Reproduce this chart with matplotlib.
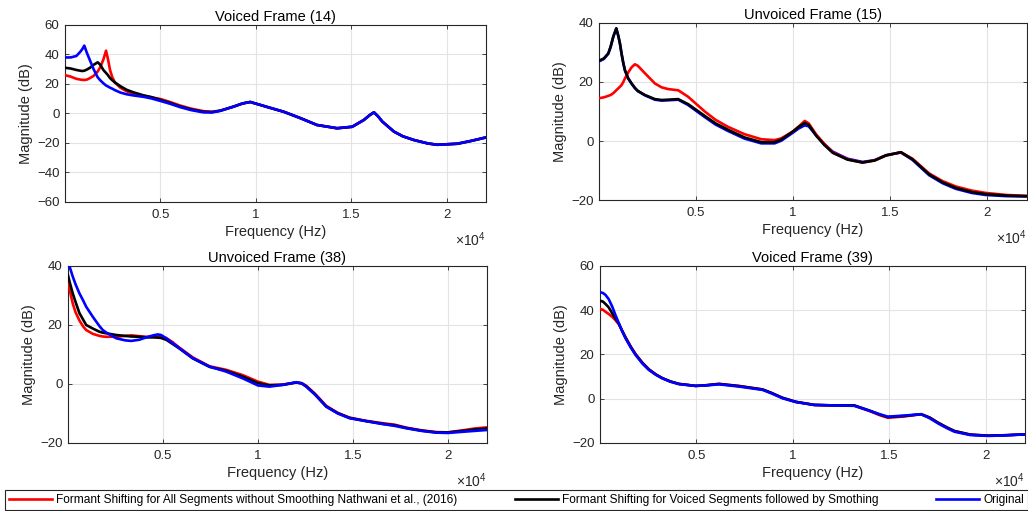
import matplotlib
matplotlib.use('Agg')
import matplotlib.pyplot as plt
from matplotlib.ticker import FuncFormatter, MultipleLocator

# 1. Dane (częstotliwość w Hz, amplituda w dB)
labels = ['Formant Shifting for All Segments without Smoothing Nathwani et al., (2016)',
          'Formant Shifting for Voiced Segments followed by Smothing',
          'Original']
colors = ['#ff0000', '#000000', '#0000ff']

# Voiced Frame (14)
freq_14 = [0, 300, 600, 800, 900, 1013, 1150, 1310, 1500, 1715, 1850, 2010, 2150, 2250, 2360,
           2480, 2620, 2900, 3240, 3600, 4110, 4500, 5000, 5500, 6030, 6600, 7240, 7700, 8130,
           8815, 9300, 9700, 10230, 10700, 11450, 12300, 13200, 14250, 15040, 15650, 15950,
           16180, 16400, 16620, 17230, 17700, 18280, 19000, 19500, 20550, 21300, 22050]
red_14 = [26, 25, 23.5, 23, 22.8, 22.7, 23, 24, 25.5, 28.5, 31.5, 36.5, 42.6, 37, 29.5,
          24.5, 21, 17.5, 15, 13.4, 12, 11, 9.8, 7.8, 5.4, 3.3, 1.6, 1.1, 1.9,
          4.6, 6.8, 7.8, 5.8, 4, 1.2, -3, -7.8, -10, -9, -4.4, -1.2,
          0.8, -2, -5.5, -12.3, -15.5, -18, -20.3, -21.2, -20.5, -18.5, -16.2]
black_14 = [31, 30.5, 29.5, 29, 28.8, 29, 29.8, 31, 33, 34.7, 33, 29.5, 27.5, 26, 24,
            22.5, 21, 18.5, 16, 14.3, 12.3, 11.2, 9.2, 7.2, 4.8, 2.8, 1.2, 1.0, 1.9,
            4.6, 6.8, 7.8, 5.8, 4, 1.2, -3, -7.8, -10, -9, -4.4, -1.2,
            0.8, -2, -5.5, -12.3, -15.5, -18, -20.3, -21.2, -20.5, -18.5, -16.2]
blue_14 = [38, 38, 39, 41.8, 43.5, 46, 41, 36, 30, 24.5, 22.5, 20.5, 19, 18.3, 17.5,
           16.8, 15.8, 14.2, 13, 12.2, 11.3, 10.3, 8.5, 6.6, 4.3, 2.3, 0.8, 0.7, 1.8,
           4.6, 6.8, 7.8, 5.8, 4, 1.2, -3, -7.8, -10, -9, -4.4, -1.2,
           0.8, -2, -5.5, -12.3, -15.5, -18, -20.3, -21.2, -20.5, -18.5, -16.2]

# Unvoiced Frame (15)
freq_15 = [0, 250, 478, 600, 735, 890, 1000, 1080, 1165, 1250, 1336, 1500, 1680, 1850, 2000,
           2360, 2880, 3220, 3560, 4080, 4590, 5450, 6000, 6645, 7500, 8360, 9045, 9390, 9985,
           10300, 10600, 10800, 11190, 11600, 12040, 12800, 13580, 14200, 14785, 15555, 16150,
           17010, 17700, 18380, 19200, 19925, 21000, 22050]
red_15 = [14.5, 14.8, 15.3, 15.6, 16.2, 17.2, 17.9, 18.4, 19, 20, 21.2, 23.2, 25, 26, 25.5,
          23, 19.5, 18.2, 17.6, 17.2, 15, 10, 7.2, 4.8, 2.3, 0.6, 0.3, 0.9, 3.2,
          5, 6.8, 6, 2.2, -0.9, -3.8, -6.2, -7.3, -6.6, -4.9, -3.8, -6,
          -11, -13.6, -15.4, -16.8, -17.6, -18.3, -18.6]
black_15 = [27.2, 28, 29.7, 32, 35.4, 38.2, 35.5, 33, 29.5, 26.5, 24, 21.3, 19.5, 18, 17,
            15.6, 14.2, 13.9, 14, 14.2, 12.5, 8.5, 6, 3.8, 1.2, -0.4, -0.4, 0.5, 3.2,
            4.8, 6.1, 5.5, 1.8, -1.3, -4, -6.3, -7.3, -6.6, -4.9, -3.8, -6.2,
            -11.3, -14, -15.9, -17.3, -18, -18.5, -18.7]
blue_15 = [27, 27.8, 29.6, 31.9, 35.3, 38.1, 35.4, 32.9, 29.4, 26.4, 23.9, 21.2, 19.4, 17.9, 16.9,
           15.5, 14, 13.7, 13.8, 14, 12.2, 8.1, 5.6, 3.4, 0.8, -0.8, -0.8, 0.1, 2.8,
           4.3, 5.3, 5, 1.9, -1, -3.6, -6, -7.1, -6.5, -4.8, -3.9, -6.4,
           -11.6, -14.3, -16.2, -17.6, -18.3, -18.7, -18.8]

# Unvoiced Frame (38)
freq_38 = [0, 100, 253, 400, 605, 800, 958, 1305, 1660, 1830, 2000, 2537, 3000, 3326, 3760,
           4116, 4500, 4726, 4900, 5168, 5500, 5870, 6570, 7450, 8326, 9200, 10000, 10600,
           11300, 12010, 12300, 12540, 13000, 13590, 14200, 14820, 15700, 16570, 17200,
           17800, 18600, 19380, 20000, 20780, 21400, 22050]
red_38 = [34.7, 31.5, 27.3, 24.3, 21.5, 19.5, 18.3, 17, 16.3, 16.1, 16, 16, 16.3, 16.5, 16.2,
          16, 16, 16, 16, 15.6, 14.2, 12.3, 9, 6, 4.8, 3, 0.8, -0.3,
          -0.2, 0.5, 0.3, -0.6, -3.3, -7.4, -9.8, -11.4, -12.5, -13.3, -13.8,
          -14.8, -15.7, -16.3, -16.4, -15.7, -15.1, -14.7]
black_38 = [36.9, 34.3, 30.7, 27.8, 24, 21.8, 20, 18.8, 17.7, 17.4, 17.2, 16.6, 16.3, 16.1, 16,
            15.8, 15.8, 15.7, 15.6, 15, 13.6, 12, 8.7, 5.8, 4.5, 2.5, 0.3, -0.5,
            -0.3, 0.5, 0.2, -0.8, -3.5, -7.6, -9.9, -11.5, -12.6, -13.5, -14,
            -14.9, -15.8, -16.4, -16.4, -15.9, -15.4, -15.1]
blue_38 = [41.5, 39.5, 36.4, 33.8, 30.7, 28.3, 26.2, 22.8, 19.6, 18.3, 17.5, 15.5, 14.8, 14.6, 15,
           15.8, 16.5, 16.8, 16.6, 15.5, 13.9, 12.1, 8.7, 5.9, 4.2, 1.9, -0.5, -0.9,
           -0.3, 0.6, 0.2, -0.9, -3.6, -7.7, -10, -11.6, -12.6, -13.6, -14.2,
           -15, -15.9, -16.5, -16.6, -16.2, -15.9, -15.6]

# Voiced Frame (39)
freq_39 = [0, 150, 286, 450, 634, 800, 977, 1150, 1325, 1600, 1845, 2200, 2536, 2900, 3233,
           3650, 4095, 4960, 5500, 6175, 7215, 8430, 8900, 9470, 10160, 11115, 12000, 13190,
           14000, 14500, 14930, 15790, 16660, 17100, 17530, 18000, 18390, 19200, 20130, 21000,
           22050]
red_39 = [40.6, 40.2, 39.3, 38.3, 37, 35.5, 33.6, 30.7, 27.8, 23.5, 20.2, 16.3, 13.3, 11, 9.3,
          7.8, 6.7, 5.8, 6.1, 6.7, 5.8, 4.2, 2.6, 0.4, -1.4, -2.8, -3, -3.1,
          -5.6, -7.4, -8.6, -8, -7, -8.5, -10.8, -13, -14.6, -16.2, -16.7, -16.5,
          -16.1]
black_39 = [44.3, 43.9, 42.8, 41.3, 38.6, 36.2, 33.9, 30.6, 27.5, 23.3, 20, 16.1, 13.2, 10.9, 9.3,
            7.8, 6.7, 5.8, 6.1, 6.7, 5.7, 4.2, 2.6, 0.4, -1.4, -2.8, -3, -3,
            -5.4, -7.1, -8.3, -7.8, -7, -8.5, -10.8, -13, -14.6, -16.2, -16.7, -16.5,
            -16.1]
blue_39 = [48.1, 47.8, 46.9, 45, 41.6, 37.8, 34.1, 30.5, 27.3, 23.1, 19.8, 15.9, 13, 10.8, 9.2,
           7.7, 6.6, 5.8, 6, 6.5, 5.5, 4, 2.4, 0.2, -1.5, -2.8, -3, -3.2,
           -5.5, -7, -8.1, -7.6, -7, -8.8, -11.1, -13.3, -14.9, -16.4, -16.8, -16.6,
           -16.1]

# 2. Ustawienia stylu (w stylu MATLAB)
plt.rcParams['font.family'] = ['Liberation Sans', 'DejaVu Sans']
plt.rcParams['mathtext.fontset'] = 'custom'
plt.rcParams['mathtext.rm'] = 'Liberation Sans'
dark = '#262626'

panels = [
    ('Voiced Frame (14)', freq_14, [red_14, black_14, blue_14], (-60, 60), [0, 1, 2],
     [0.0632, 0.6047, 0.4096, 0.3464]),
    ('Unvoiced Frame (15)', freq_15, [red_15, black_15, blue_15], (-20, 40), [1, 2, 0],
     [0.5827, 0.6086, 0.4163, 0.3464]),
    ('Unvoiced Frame (38)', freq_38, [red_38, black_38, blue_38], (-20, 40), [0, 1, 2],
     [0.0661, 0.1331, 0.4076, 0.3464]),
    ('Voiced Frame (39)', freq_39, [red_39, black_39, blue_39], (-20, 60), [0, 1, 2],
     [0.5837, 0.1331, 0.4134, 0.3464]),
]

fig = plt.figure(figsize=(10.28, 5.11), dpi=100)

handles = None
for title, freq, series, ylim, order, pos in panels:
    ax = fig.add_axes(pos)
    lines = []
    for i, vals in enumerate(series):
        ln, = ax.plot(freq, vals, color=colors[i], linewidth=1.9, zorder=3 + order[i],
                      solid_joinstyle='round', label=labels[i])
        lines.append(ln)
    if handles is None:
        handles = lines

    ax.set_xlim(0, 22050)
    ax.set_ylim(*ylim)
    ax.xaxis.set_major_locator(MultipleLocator(5000))
    ax.yaxis.set_major_locator(MultipleLocator(20))
    ax.xaxis.set_major_formatter(FuncFormatter(lambda v, p: '%g' % (v / 1e4) if v > 0 else ''))
    ax.grid(True, color='#e3e3e3', linewidth=0.8, zorder=0)
    ax.set_axisbelow(True)
    for s in ax.spines.values():
        s.set_color(dark)
        s.set_linewidth(0.8)
    ax.tick_params(direction='in', length=3, width=0.6, colors=dark, labelsize=9.5,
                   top=True, right=True)
    ax.tick_params(axis='x', pad=5)
    ax.tick_params(axis='y', pad=4)
    ax.set_title(title, fontsize=10.5, color='black', pad=3)
    ax.set_xlabel('Frequency (Hz)', fontsize=10.5, color=dark, labelpad=3)
    ax.set_ylabel('Magnitude (dB)', fontsize=10.5, color=dark, labelpad=3)
    ax.text(1.0, -0.215, r'$\times\mathregular{10^4}$', transform=ax.transAxes,
            ha='right', va='center', fontsize=10, color=dark)

# 3. Legenda na dole
leg = fig.legend(handles, labels, loc='lower left', ncol=3, mode='expand',
                 bbox_to_anchor=(5 / 1028, 1 / 511, 1023 / 1028, 23 / 511),
                 borderaxespad=0, fancybox=False, framealpha=1, edgecolor=dark,
                 handlelength=3.6, handletextpad=0.3, borderpad=0.35,
                 prop={'family': 'Liberation Sans', 'size': 8.6})
leg.get_frame().set_linewidth(0.8)

fig.savefig('out.png', dpi=100)
